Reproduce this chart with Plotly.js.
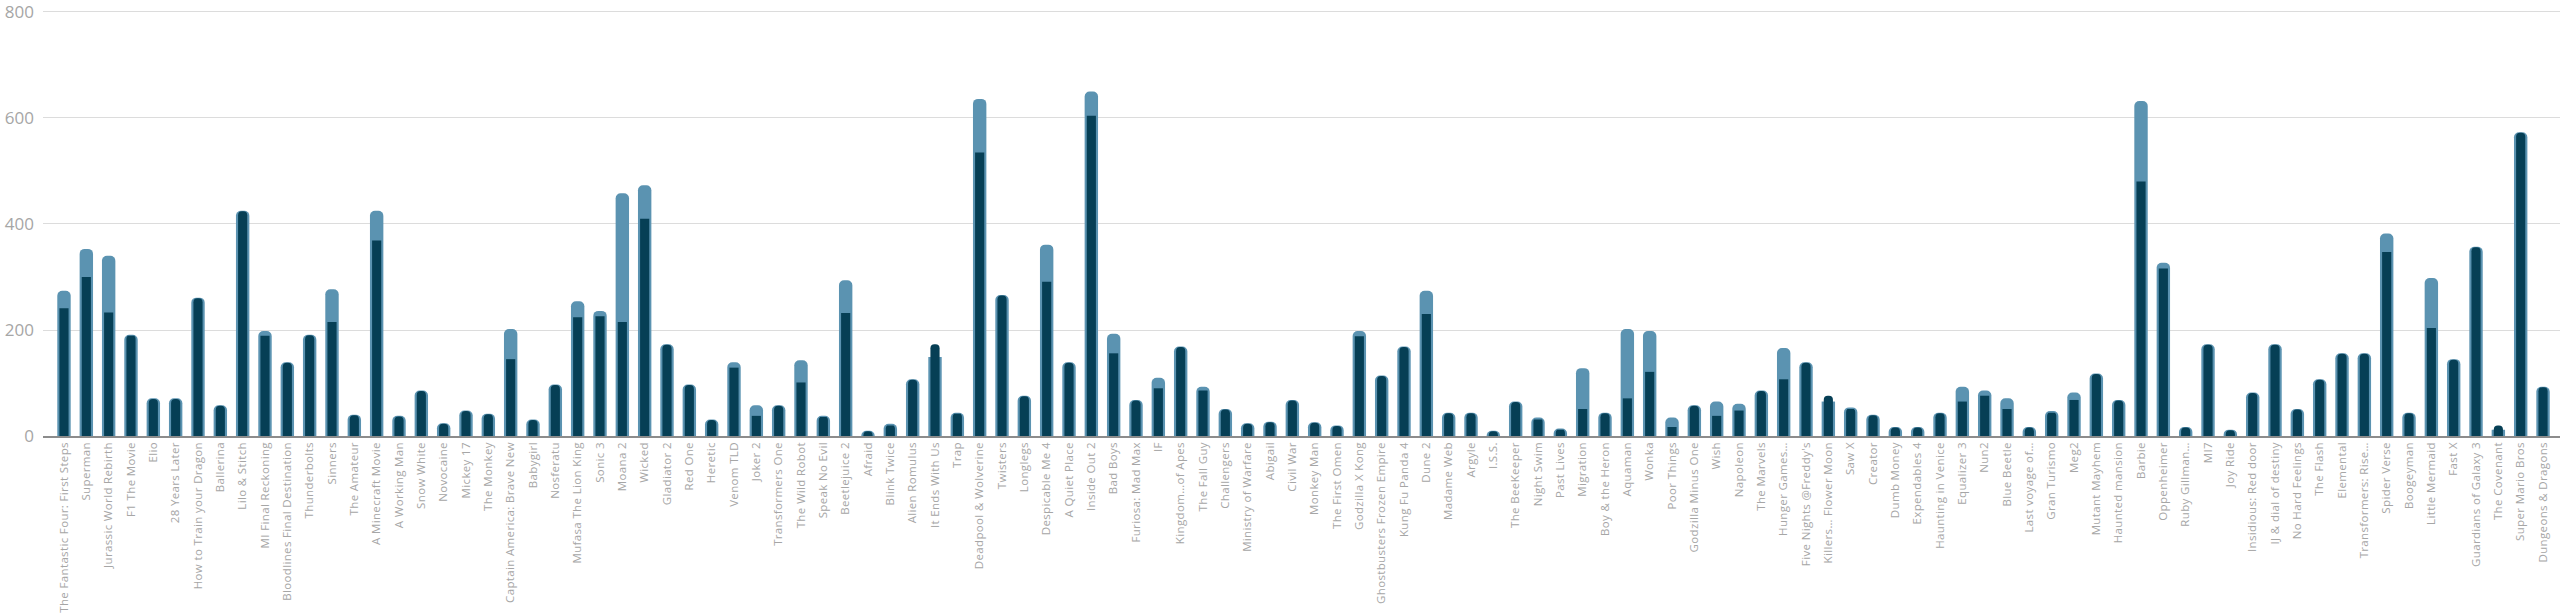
<!DOCTYPE html>
<html>
<head>
<meta charset="utf-8">
<script src="https://cdn.plot.ly/plotly-3.0.1.min.js"></script>
<style>
  html, body { margin: 0; padding: 0; background: #ffffff; }
  #chart { width: 2560px; height: 616px; }
  #chart .xtick text { letter-spacing: 0.35px; }
</style>
</head>
<body>
<div id="chart"></div>
<script>
const categories = [
  "The Fantastic Four: First Steps", "Superman", "Jurassic World Rebirth", "F1 The Movie", "Elio",
  "28 Years Later", "How to Train your Dragon", "Ballerina", "Lilo & Stitch", "MI Final Reckoning",
  "Bloodlines Final Destination", "Thunderbolts", "Sinners", "The Amateur", "A Minecraft Movie",
  "A Working Man", "Snow White", "Novocaine", "Mickey 17", "The Monkey",
  "Captain America: Brave New", "Babygirl", "Nosferatu", "Mufasa The Lion King", "Sonic 3",
  "Moana 2", "Wicked", "Gladiator 2", "Red One", "Heretic",
  "Venom TLD", "Joker 2", "Transformers One", "The Wild Robot", "Speak No Evil",
  "Beetlejuice 2", "Afraid", "Blink Twice", "Alien Romulus", "It Ends With Us",
  "Trap", "Deadpool & Wolverine", "Twisters", "Longlegs", "Despicable Me 4",
  "A Quiet Place", "Inside Out 2", "Bad Boys", "Furiosa: Mad Max", "IF",
  "Kingdom…of Apes", "The Fall Guy", "Challengers", "Ministry of Warfare", "Abigail",
  "Civil War", "Monkey Man", "The First Omen", "Godzilla X Kong", "Ghostbusters Frozen Empire",
  "Kung Fu Panda 4", "Dune 2", "Madame Web", "Argyle", "I.S.S.",
  "The BeeKeeper", "Night Swim", "Past Lives", "Migration", "Boy & the Heron",
  "Aquaman", "Wonka", "Poor Things", "Godzilla Minus One", "Wish",
  "Napoleon", "The Marvels", "Hunger Games…", "Five Nights @Freddy's", "Killers… Flower Moon",
  "Saw X", "Creator", "Dumb Money", "Expendables 4", "Haunting in Venice",
  "Equalizer 3", "Nun2", "Blue Beetle", "Last voyage of…", "Gran Turismo",
  "Meg2", "Mutant Mayhem", "Haunted mansion", "Barbie", "Oppenheimer",
  "Ruby Gillman…", "MI7", "Joy Ride", "Insidious: Red door", "IJ & dial of destiny",
  "No Hard Feelings", "The Flash", "Elemental", "Transformers: Rise…", "Spider Verse",
  "Boogeyman", "Little Mermaid", "Fast X", "Guardians of Galaxy 3", "The Covenant",
  "Super Mario Bros", "Dungeons & Dragons"
];

const seriesTotal = [
  274, 353, 340, 191, 71,
  71, 261, 58, 425, 198,
  139, 191, 277, 40, 425,
  38, 86, 24, 48, 42,
  202, 31, 97, 254, 236,
  458, 473, 173, 97, 31,
  139, 58, 58, 143, 38,
  294, 10, 23, 107, 149,
  44, 636, 266, 76, 361,
  139, 650, 193, 68, 110,
  169, 93, 51, 24, 27,
  68, 26, 20, 198, 114,
  169, 274, 44, 44, 10,
  65, 35, 14, 128, 44,
  202, 198, 35, 58, 65,
  61, 86, 166, 139, 65,
  54, 40, 17, 17, 44,
  93, 86, 71, 17, 47,
  82, 118, 68, 632, 327,
  17, 173, 12, 82, 173,
  51, 107, 156, 156, 382,
  44, 298, 145, 357, 12,
  573, 93
];

const seriesDomestic = [
  241, 300, 233, 189, 70,
  70, 260, 57, 424, 189,
  138, 190, 215, 39, 369,
  37, 85, 23, 47, 41,
  145, 30, 96, 224, 226,
  215, 410, 172, 96, 30,
  129, 38, 57, 101, 36,
  232, 9, 20, 106, 173,
  42, 535, 265, 75, 291,
  138, 604, 156, 67, 90,
  168, 86, 50, 23, 26,
  67, 25, 19, 188, 113,
  168, 230, 43, 43, 9,
  64, 31, 12, 51, 43,
  71, 121, 17, 57, 38,
  48, 85, 107, 138, 76,
  51, 39, 16, 16, 43,
  65, 76, 51, 16, 44,
  68, 117, 67, 480, 316,
  16, 172, 11, 81, 172,
  50, 106, 155, 155, 347,
  43, 204, 144, 356, 20,
  572, 92
];

const yTicks = [0, 200, 400, 600, 800];

const traces = [
  {
    type: 'bar',
    x: categories,
    y: seriesTotal,
    width: 0.6,
    marker: { color: '#5b93b1', cornerradius: 5, line: { width: 0 } },
    hoverinfo: 'skip'
  },
  {
    type: 'bar',
    x: categories,
    y: seriesDomestic,
    width: 0.41,
    marker: { color: '#063f55', cornerradius: 5, line: { width: 0 } },
    hoverinfo: 'skip'
  }
];

const layout = {
  width: 2560,
  height: 616,
  margin: { l: 43, r: 0, t: 7, b: 180, pad: 0 },
  paper_bgcolor: '#ffffff',
  plot_bgcolor: '#ffffff',
  barmode: 'overlay',
  showlegend: false,
  font: { family: '"Open Sans", "Noto Sans", sans-serif', color: '#a6a6a6' },
  xaxis: {
    type: 'category',
    range: [-0.94, 111.76],
    tickangle: -90,
    tickfont: { size: 11.5, color: '#a6a6a6', family: '"Open Sans", "Noto Sans", sans-serif' },
    showgrid: false,
    showline: true,
    linecolor: '#8c8c8c',
    linewidth: 1.5,
    ticks: '',
    automargin: false,
    fixedrange: true
  },
  yaxis: {
    range: [0, 809.4],
    tickvals: yTicks,
    ticktext: yTicks.map(String),
    tickfont: { size: 17, color: '#a6a6a6', family: '"Open Sans", "Noto Sans", sans-serif' },
    ticklabeloverflow: 'allow',
    showgrid: true,
    gridcolor: '#dcdcdc',
    gridwidth: 1,
    zeroline: false,
    showline: false,
    ticks: '',
    ticklabelstandoff: 8,
    automargin: false,
    fixedrange: true
  }
};

Plotly.newPlot('chart', traces, layout, { displayModeBar: false, staticPlot: true });
</script>
</body>
</html>
